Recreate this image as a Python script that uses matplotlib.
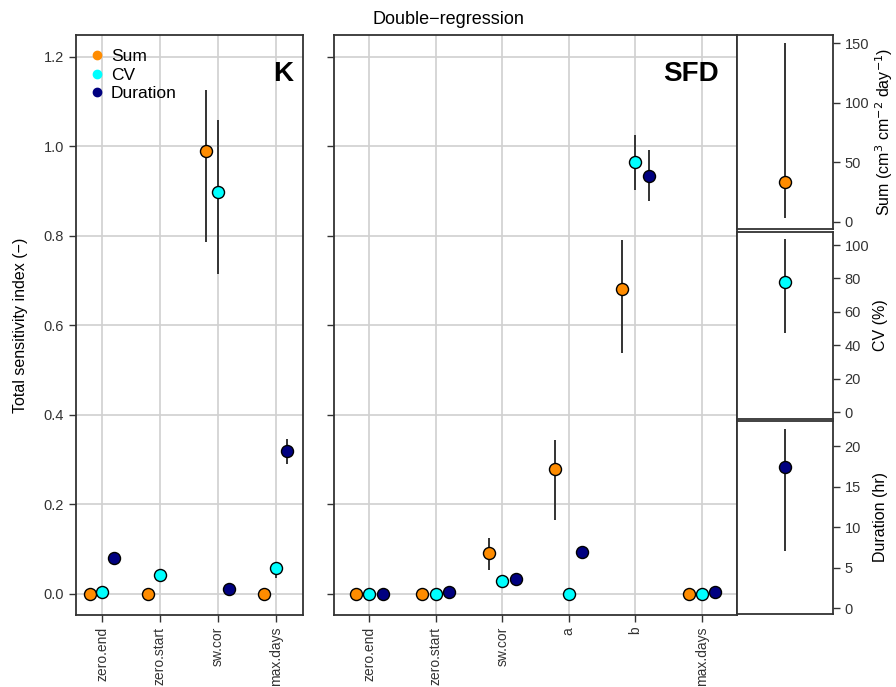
import numpy as np
import matplotlib
matplotlib.use('Agg')
import matplotlib.pyplot as plt
from matplotlib.lines import Line2D

plt.rcParams['font.family'] = ['Liberation Sans', 'DejaVu Sans']

nan = np.nan

# K panel (4 parameters)
k_params = ['zero.end', 'zero.start', 'sw.cor', 'max.days']
k_sum = [0.0, 0.0, 0.990, 0.0]
k_sum_lo = [0.0, 0.0, 0.786, 0.0]
k_sum_hi = [0.0, 0.0, 1.127, 0.0]
k_cv = [0.004, 0.042, 0.898, 0.058]
k_cv_lo = [0.004, 0.029, 0.714, 0.036]
k_cv_hi = [0.004, 0.050, 1.060, 0.070]
k_dur = [0.080, nan, 0.011, 0.319]
k_dur_lo = [0.080, nan, 0.011, 0.290]
k_dur_hi = [0.080, nan, 0.011, 0.347]

# SFD panel (6 parameters)
sfd_params = ['zero.end', 'zero.start', 'sw.cor', 'a', 'b', 'max.days']
sfd_sum = [0.0, 0.0, 0.092, 0.279, 0.681, 0.0]
sfd_sum_lo = [0.0, 0.0, 0.053, 0.166, 0.539, 0.0]
sfd_sum_hi = [0.0, 0.0, 0.125, 0.345, 0.790, 0.0]
sfd_cv = [0.0, 0.0, 0.028, 0.0, 0.965, 0.0]
sfd_cv_lo = [0.0, 0.0, 0.028, 0.0, 0.902, 0.0]
sfd_cv_hi = [0.0, 0.0, 0.028, 0.0, 1.025, 0.0]
sfd_dur = [0.0, 0.004, 0.034, 0.093, 0.933, 0.005]
sfd_dur_lo = [0.0, 0.004, 0.034, 0.093, 0.877, 0.005]
sfd_dur_hi = [0.0, 0.004, 0.034, 0.093, 0.992, 0.005]

# model output summaries (right column)
sum_val, sum_lo, sum_hi = 33.5, 3.5, 150.0
cv_val, cv_lo, cv_hi = 78.0, 47.6, 103.6
dur_val, dur_lo, dur_hi = 17.4, 7.1, 22.1

colors = {'Sum': '#FF8C00', 'CV': '#00FFFF', 'Duration': '#000080'}
spine_col = '#333333'
grid_col = '#d0d0d0'


def style_axes(ax):
    for s in ax.spines.values():
        s.set_color(spine_col)
        s.set_linewidth(1.3)
    ax.tick_params(direction='out', length=5, width=1.0, color=spine_col,
                   labelcolor='#333333', labelsize=10.5)
    ax.tick_params(axis='x', labelsize=10)


def draw_points(ax, x, val, lo, hi, col):
    x = np.asarray(x, dtype=float)
    ax.vlines(x, lo, hi, color='#333333', lw=1.4, zorder=3)
    ax.scatter(x, val, s=75, c=col, edgecolors='black', linewidths=1.0, zorder=4)


def param_panel(ax, params, series, label):
    x = np.arange(1, len(params) + 1)
    offs = [-0.2, 0.0, 0.2]
    for (name, val, lo, hi), d in zip(series, offs):
        draw_points(ax, x + d, val, lo, hi, colors[name])
    ax.set_xlim(0.5, len(params) + 0.5)
    ax.set_ylim(-0.047, 1.249)
    ax.set_yticks([0.0, 0.2, 0.4, 0.6, 0.8, 1.0, 1.2])
    ax.set_xticks(x)
    ax.set_xticklabels(params, rotation=90)
    ax.grid(True, color=grid_col, lw=1.2, zorder=0)
    ax.set_axisbelow(True)
    style_axes(ax)
    ax.text(0.955, 0.932, label, transform=ax.transAxes, ha='right', va='center',
            fontsize=20, fontweight='bold')


fig = plt.figure(figsize=(8.96, 6.87), dpi=100)

ax_k = fig.add_axes([0.0848, 0.1048, 0.2534, 0.8443])
param_panel(ax_k, k_params,
            [('Sum', k_sum, k_sum_lo, k_sum_hi),
             ('CV', k_cv, k_cv_lo, k_cv_hi),
             ('Duration', k_dur, k_dur_lo, k_dur_hi)], 'K')
ax_k.set_xlim(0.55, 4.47)
ax_k.set_yticklabels(['0.0', '0.2', '0.4', '0.6', '0.8', '1.0', '1.2'])
ax_k.set_ylabel('Total sensitivity index (\u2212)', fontsize=11.5)
ax_k.yaxis.set_label_coords(-0.21, 0.5)

handles = [Line2D([], [], marker='o', ls='', color=colors[n], markersize=6, label=n)
           for n in ['Sum', 'CV', 'Duration']]
ax_k.legend(handles=handles, loc='upper left', frameon=False, fontsize=12.5,
            handlelength=0.8, handletextpad=0.4, labelspacing=0.2,
            borderaxespad=0.5, borderpad=0.3)

ax_s = fig.add_axes([0.3728, 0.1048, 0.4498, 0.8443])
param_panel(ax_s, sfd_params,
            [('Sum', sfd_sum, sfd_sum_lo, sfd_sum_hi),
             ('CV', sfd_cv, sfd_cv_lo, sfd_cv_hi),
             ('Duration', sfd_dur, sfd_dur_lo, sfd_dur_hi)], 'SFD')
ax_s.set_xlim(0.47, 6.53)
ax_s.set_yticklabels([])

# right column: the three model outputs
right = [
    ([0.8225, 0.6667, 0.1071, 0.2824], sum_val, sum_lo, sum_hi, 'Sum',
     (-5.9, 156.8), [0, 50, 100, 150], r'Sum (cm$^{3}$ cm$^{-2}$ day$^{-1}$)'),
    ([0.8225, 0.3901, 0.1071, 0.2722], cv_val, cv_lo, cv_hi, 'CV',
     (-4.0, 107.8), [0, 20, 40, 60, 80, 100], 'CV (%)'),
    ([0.8225, 0.1063, 0.1071, 0.2809], dur_val, dur_lo, dur_hi, 'Duration',
     (-0.7, 23.1), [0, 5, 10, 15, 20], 'Duration (hr)'),
]
for pos, val, lo, hi, name, ylim, ticks, ylab in right:
    ax = fig.add_axes(pos)
    draw_points(ax, [1], [val], [lo], [hi], colors[name])
    ax.set_xlim(0.5, 1.5)
    ax.set_ylim(*ylim)
    ax.set_xticks([])
    ax.set_yticks(ticks)
    ax.yaxis.tick_right()
    ax.yaxis.set_label_position('right')
    ax.set_ylabel(ylab, fontsize=11.5)
    ax.yaxis.set_label_coords(1.42, 0.5)
    style_axes(ax)

fig.text(0.5, 0.972, 'Double\u2212regression', ha='center', va='center', fontsize=13)

plt.savefig('out.png', dpi=100)
